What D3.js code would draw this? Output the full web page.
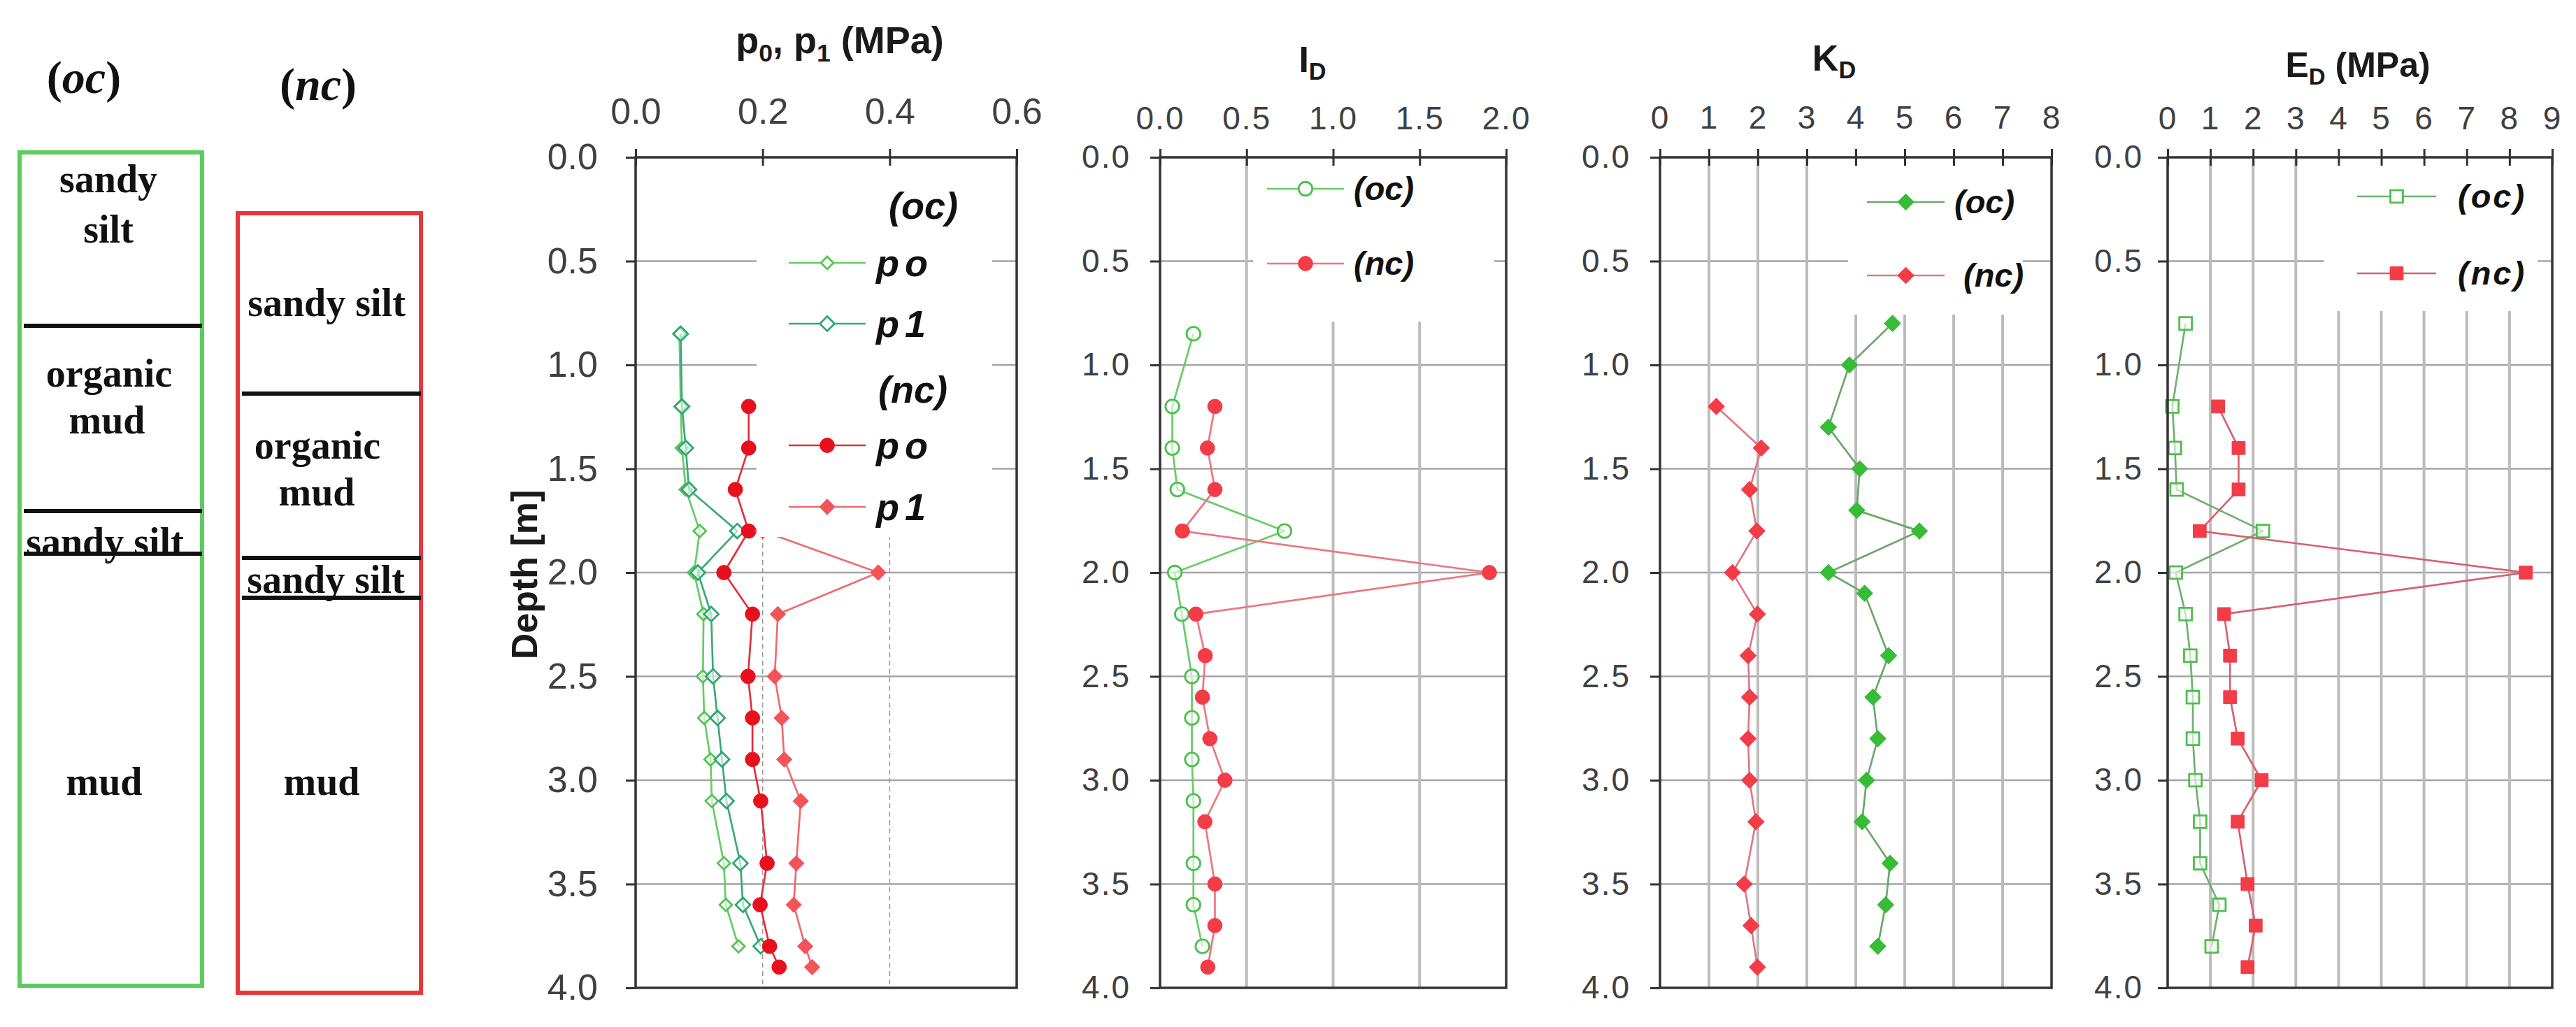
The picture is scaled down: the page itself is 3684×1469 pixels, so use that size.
<!DOCTYPE html>
<html>
<head>
<meta charset="utf-8">
<script src="https://cdn.jsdelivr.net/npm/d3@7"></script>
<style>
  html, body { margin: 0; padding: 0; background: #fff; }
  svg { display: block; }
</style>
</head>
<body>
<svg id="chart" width="3684" height="1469"></svg>
<script>
// ---------------- DATA ----------------
const depthTicks = [0, 0.5, 1, 1.5, 2, 2.5, 3, 3.5, 4];
const depthGrid = [0.5, 1, 1.5, 2, 2.5, 3, 3.5];

// p0, p1 panel
const pTicks = [0, 0.2, 0.4, 0.6];
const pDepthOc = [0.85, 1.2, 1.4, 1.6, 1.8, 2.0, 2.2, 2.5, 2.7, 2.9, 3.1, 3.4, 3.6, 3.8];
const p0Oc = [0.069, 0.071, 0.073, 0.079, 0.101, 0.092, 0.107, 0.106, 0.108, 0.118, 0.120, 0.139, 0.142, 0.162];
const p1Oc = [0.071, 0.073, 0.079, 0.084, 0.160, 0.098, 0.119, 0.122, 0.129, 0.136, 0.143, 0.165, 0.169, 0.197];
const pDepthNc = [1.2, 1.4, 1.6, 1.8, 2.0, 2.2, 2.5, 2.7, 2.9, 3.1, 3.4, 3.6, 3.8, 3.9];
const p0Nc = [0.178, 0.178, 0.157, 0.178, 0.139, 0.184, 0.177, 0.184, 0.184, 0.197, 0.207, 0.196, 0.211, 0.226];
const p1NcDepth = [1.8, 2.0, 2.2, 2.5, 2.7, 2.9, 3.1, 3.4, 3.6, 3.8, 3.9];
const p1Nc = [0.200, 0.382, 0.224, 0.219, 0.230, 0.234, 0.260, 0.253, 0.249, 0.267, 0.278];

// I_D panel
const idTicks = [0, 0.5, 1.0, 1.5, 2.0];
const idDepthOc = [0.85, 1.2, 1.4, 1.6, 1.8, 2.0, 2.2, 2.5, 2.7, 2.9, 3.1, 3.4, 3.6, 3.8];
const idOc = [0.193, 0.071, 0.071, 0.100, 0.719, 0.085, 0.126, 0.184, 0.184, 0.184, 0.193, 0.193, 0.193, 0.245];
const idDepthNc = [1.2, 1.4, 1.6, 1.8, 2.0, 2.2, 2.4, 2.6, 2.8, 3.0, 3.2, 3.5, 3.7, 3.9];
const idNc = [0.317, 0.274, 0.317, 0.129, 1.903, 0.207, 0.261, 0.245, 0.288, 0.375, 0.259, 0.317, 0.317, 0.276];

// K_D panel
const kdTicks = [0, 1, 2, 3, 4, 5, 6, 7, 8];
const kdDepthOc = [0.8, 1.0, 1.3, 1.5, 1.7, 1.8, 2.0, 2.1, 2.4, 2.6, 2.8, 3.0, 3.2, 3.4, 3.6, 3.8];
const kdOc = [4.75, 3.87, 3.44, 4.08, 4.02, 5.30, 3.44, 4.18, 4.67, 4.35, 4.45, 4.22, 4.13, 4.70, 4.61, 4.45];
const kdDepthNc = [1.2, 1.4, 1.6, 1.8, 2.0, 2.2, 2.4, 2.6, 2.8, 3.0, 3.2, 3.5, 3.7, 3.9];
const kdNc = [1.15, 2.07, 1.83, 1.98, 1.48, 1.99, 1.80, 1.83, 1.80, 1.83, 1.96, 1.72, 1.86, 1.99];

// E_D panel
const edTicks = [0, 1, 2, 3, 4, 5, 6, 7, 8, 9];
const edDepthOc = [0.8, 1.2, 1.4, 1.6, 1.8, 2.0, 2.2, 2.4, 2.6, 2.8, 3.0, 3.2, 3.4, 3.6, 3.8];
const edOc = [0.42, 0.11, 0.17, 0.21, 2.23, 0.19, 0.42, 0.53, 0.59, 0.59, 0.65, 0.76, 0.76, 1.21, 1.03];
const edDepthNc = [1.2, 1.4, 1.6, 1.8, 2.0, 2.2, 2.4, 2.6, 2.8, 3.0, 3.2, 3.5, 3.7, 3.9];
const edNc = [1.18, 1.66, 1.66, 0.75, 8.38, 1.32, 1.46, 1.46, 1.64, 2.20, 1.64, 1.87, 2.06, 1.87];

// Soil columns
const ocLayers = ["sandy silt", "organic mud", "sandy silt", "mud"];
const ncLayers = ["sandy silt", "organic mud", "sandy silt", "mud"];

// ---------------- DRAWING ----------------
const svg = d3.select('#chart');
svg.append('rect').attr('width', 3684).attr('height', 1469).attr('fill', '#fff');

const SANS = "'Liberation Sans', Arial, sans-serif";
const SERIF = "'Liberation Serif', 'Times New Roman', serif";
const GREEN_L = '#66cc66', TEAL = '#2fa872';
const RED = '#e8101c', RED_P1 = '#f2545a', RED2 = '#f23c48', RED2_L = '#ec7682';

const yTop = 225, yBot = 1413;

function markerPath(type, size) {
  if (type === 'circle') return d3.symbol(d3.symbolCircle, size)();
  return d3.symbol(d3.symbolSquare, size)(); // square, or diamond = rotated square
}

function drawSeries(g, x, y, depths, vals, st) {
  const pts = depths.map((d, i) => [x(vals[i]), y(d)]);
  g.append('path').attr('d', d3.line()(pts))
    .attr('fill', 'none').attr('stroke', st.line).attr('stroke-width', st.lw || 2.7)
    .attr('stroke-linejoin', 'round');
  g.selectAll(null).data(pts).join('path')
    .attr('d', markerPath(st.shape, st.size))
    .attr('transform', d => `translate(${d[0]},${d[1]})` + (st.shape === 'diamond' ? ' rotate(45)' : ''))
    .attr('fill', st.open ? '#fff' : st.color)
    .attr('fill-opacity', st.open ? 0.6 : 1)
    .attr('stroke', st.color).attr('stroke-width', st.open ? 2.8 : 1);
}

function legendItem(g, x1, x2, y, st, label, fs, tx, spacing) {
  g.append('line').attr('x1', x1).attr('x2', x2).attr('y1', y).attr('y2', y)
    .attr('stroke', st.line).attr('stroke-width', st.lw || 2.7);
  const mx = (x1 + x2) / 2;
  g.append('path').attr('d', markerPath(st.shape, st.size))
    .attr('transform', `translate(${mx},${y})` + (st.shape === 'diamond' ? ' rotate(45)' : ''))
    .attr('fill', st.open ? '#fff' : st.color)
    .attr('stroke', st.color).attr('stroke-width', st.open ? 2.8 : 1);
  if (label) {
    g.append('text').attr('x', tx).attr('y', y + fs * 0.35).text(label)
      .attr('font-family', SANS).attr('font-weight', 'bold').attr('font-style', 'italic')
      .attr('font-size', fs).attr('fill', '#111')
      .attr('letter-spacing', spacing || 0);
  }
}

function panel(cfg) {
  const x = d3.scaleLinear().domain([cfg.xTicks[0], cfg.xTicks[cfg.xTicks.length - 1]]).range([cfg.x0, cfg.x1]);
  const y = d3.scaleLinear().domain([0, 4]).range([yTop, yBot]);
  const g = svg.append('g');

  // horizontal grid
  g.selectAll(null).data(depthGrid).join('line')
    .attr('x1', cfg.x0).attr('x2', cfg.x1).attr('y1', d => y(d)).attr('y2', d => y(d))
    .attr('stroke', '#a4a4a4').attr('stroke-width', 2.6);
  // vertical grid
  g.selectAll(null).data(cfg.vGrid).join('line')
    .attr('x1', d => x(d)).attr('x2', d => x(d)).attr('y1', yTop).attr('y2', yBot)
    .attr('stroke', cfg.dashed ? '#9a9a9a' : '#bcbcbc')
    .attr('stroke-width', cfg.dashed ? 1.6 : 4)
    .attr('stroke-dasharray', cfg.dashed ? '7,5' : null);

  cfg.series(g, x, y);

  // legend box (white, covers grid & data)
  const lb = cfg.legendBox;
  g.append('rect').attr('x', lb[0]).attr('y', yTop + 2).attr('width', lb[1] - lb[0])
    .attr('height', lb[2] - yTop - 2).attr('fill', '#fff');
  cfg.legend(g);

  // frame
  g.append('rect').attr('x', cfg.x0).attr('y', yTop).attr('width', cfg.x1 - cfg.x0)
    .attr('height', yBot - yTop).attr('fill', 'none').attr('stroke', '#333').attr('stroke-width', 3.5);

  // top axis
  const ax = g.append('g').attr('transform', `translate(0,${yTop})`)
    .call(d3.axisTop(x).tickValues(cfg.xTicks).tickFormat(cfg.xFmt).tickSizeInner(12).tickSizeOuter(0).tickPadding(cfg.xPad));
  ax.select('.domain').remove();
  ax.selectAll('.tick line').attr('y1', 12).attr('stroke', '#333').attr('stroke-width', 3);
  ax.selectAll('.tick text').attr('font-family', SANS).attr('font-size', cfg.fs).attr('fill', '#404040')
    .attr('letter-spacing', cfg.ls || 0);

  // left axis
  const ay = g.append('g').attr('transform', `translate(${cfg.x0},0)`)
    .call(d3.axisLeft(y).tickValues(depthTicks).tickFormat(d3.format('.1f')).tickSizeInner(14).tickSizeOuter(0).tickPadding(cfg.yPad));
  ay.select('.domain').remove();
  ay.selectAll('.tick line').attr('stroke', '#333').attr('stroke-width', 3);
  ay.selectAll('.tick text').attr('font-family', SANS).attr('font-size', cfg.fs).attr('fill', '#404040')
    .attr('letter-spacing', cfg.ls || 0);

  // title
  const t = svg.append('text').attr('x', cfg.titleX).attr('y', cfg.titleY)
    .attr('text-anchor', 'middle').attr('font-family', SANS).attr('font-weight', 'bold')
    .attr('font-size', cfg.titleFs).attr('fill', '#1a1a1a');
  cfg.title.forEach(p => {
    const ts = t.append('tspan').text(p.t);
    if (p.sub) ts.attr('font-size', cfg.titleFs * 0.66).attr('dy', cfg.titleFs * 0.22);
    if (p.back) ts.attr('dy', -cfg.titleFs * 0.22);
  });
  return { x, y };
}

// ----- p0, p1 panel -----
const stPoOc = { shape: 'diamond', size: 160, color: '#55c455', line: '#66cc66', open: true };
const stP1Oc = { shape: 'diamond', size: 220, color: TEAL, line: '#3aaa78', open: true };
const stPoNc = { shape: 'circle', size: 340, color: RED, line: '#e0303a' };
const stP1Nc = { shape: 'diamond', size: 240, color: RED_P1, line: '#f06a70' };

panel({
  x0: 909, x1: 1454, xTicks: pTicks, xFmt: d3.format('.1f'), xPad: 36, yPad: 40, fs: 52,
  vGrid: [0.2, 0.4], dashed: true,
  legendBox: [1082, 1419, 768],
  series: (g, x, y) => {
    drawSeries(g, x, y, pDepthOc, p0Oc, stPoOc);
    drawSeries(g, x, y, pDepthOc, p1Oc, stP1Oc);
    drawSeries(g, x, y, pDepthNc, p0Nc, stPoNc);
    drawSeries(g, x, y, p1NcDepth, p1Nc, stP1Nc);
  },
  legend: g => {
    g.append('text').attr('x', 1271).attr('y', 313).text('(oc)')
      .attr('font-family', SANS).attr('font-weight', 'bold').attr('font-style', 'italic')
      .attr('font-size', 54).attr('fill', '#111');
    legendItem(g, 1128, 1238, 376, stPoOc, 'po', 54, 1253, 8);
    legendItem(g, 1128, 1238, 463, stP1Oc, 'p1', 54, 1253, 8);
    g.append('text').attr('x', 1256).attr('y', 576).text('(nc)')
      .attr('font-family', SANS).attr('font-weight', 'bold').attr('font-style', 'italic')
      .attr('font-size', 54).attr('fill', '#111');
    legendItem(g, 1128, 1238, 637, stPoNc, 'po', 54, 1253, 8);
    legendItem(g, 1128, 1238, 725, stP1Nc, 'p1', 54, 1253, 8);
  },
  titleX: 1201, titleY: 76, titleFs: 54,
  title: [{ t: 'p' }, { t: '0', sub: true }, { t: ', p', back: true }, { t: '1', sub: true }, { t: ' (MPa)', back: true }]
});

// Depth label
svg.append('text').attr('transform', 'translate(768,822) rotate(-90)')
  .attr('text-anchor', 'middle').attr('font-family', SANS).attr('font-weight', 'bold')
  .attr('font-size', 52).attr('fill', '#1a1a1a').text('Depth [m]');

// ----- I_D panel -----
const stOcCircle = { shape: 'circle', size: 300, color: '#4cc04c', line: GREEN_L, open: true };
const stNcCircle = { shape: 'circle', size: 340, color: RED2, line: RED2_L };
panel({
  x0: 1659, x1: 2154, xTicks: idTicks, xFmt: d3.format('.1f'), xPad: 28, yPad: 28, fs: 46, ls: 2,
  vGrid: [0.5, 1.0, 1.5],
  legendBox: [1792, 2137, 460],
  series: (g, x, y) => {
    drawSeries(g, x, y, idDepthOc, idOc, stOcCircle);
    drawSeries(g, x, y, idDepthNc, idNc, stNcCircle);
  },
  legend: g => {
    legendItem(g, 1812, 1922, 270, stOcCircle, '(oc)', 47, 1936);
    legendItem(g, 1812, 1922, 377, stNcCircle, '(nc)', 47, 1936);
  },
  titleX: 1877, titleY: 103, titleFs: 52,
  title: [{ t: 'I' }, { t: 'D', sub: true }]
});

// ----- K_D panel -----
const stOcDia = { shape: 'diamond', size: 270, color: '#36bc36', line: '#6aa86a' };
const stNcDia = { shape: 'diamond', size: 270, color: RED2, line: '#e07884' };
panel({
  x0: 2374, x1: 2934, xTicks: kdTicks, xFmt: d3.format('d'), xPad: 29, yPad: 28, fs: 46, ls: 2,
  vGrid: [1, 2, 3, 4, 5, 6, 7],
  legendBox: [2643, 2893, 450],
  series: (g, x, y) => {
    drawSeries(g, x, y, kdDepthOc, kdOc, stOcDia);
    drawSeries(g, x, y, kdDepthNc, kdNc, stNcDia);
  },
  legend: g => {
    legendItem(g, 2670, 2781, 289, stOcDia, '(oc)', 47, 2795);
    legendItem(g, 2670, 2781, 394, stNcDia, '(nc)', 47, 2808);
  },
  titleX: 2623, titleY: 101, titleFs: 52,
  title: [{ t: 'K' }, { t: 'D', sub: true }]
});

// ----- E_D panel -----
const stOcSq = { shape: 'square', size: 320, color: '#4cc04c', line: '#70b070', open: true };
const stNcSq = { shape: 'square', size: 350, color: RED2, line: '#d86070' };
panel({
  x0: 3100, x1: 3650, xTicks: edTicks, xFmt: d3.format('d'), xPad: 28, yPad: 21, fs: 46, ls: 2,
  vGrid: [1, 2, 3, 4, 5, 6, 7, 8],
  legendBox: [3324, 3629, 445],
  series: (g, x, y) => {
    drawSeries(g, x, y, edDepthOc, edOc, stOcSq);
    drawSeries(g, x, y, edDepthNc, edNc, stNcSq);
  },
  legend: g => {
    legendItem(g, 3371, 3484, 281, stOcSq, '(oc)', 47, 3515, 3);
    legendItem(g, 3371, 3484, 391, stNcSq, '(nc)', 47, 3515, 3);
  },
  titleX: 3372, titleY: 110, titleFs: 50,
  title: [{ t: 'E' }, { t: 'D', sub: true }, { t: ' (MPa)', back: true }]
});

// ----- Soil columns -----
function col(cfg) {
  const g = svg.append('g');
  g.append('rect').attr('x', cfg.x0).attr('y', cfg.y0).attr('width', cfg.x1 - cfg.x0)
    .attr('height', cfg.y1 - cfg.y0).attr('fill', 'none').attr('stroke', cfg.color).attr('stroke-width', 6);
  const ht = g.append('text').attr('x', cfg.hx).attr('y', cfg.hy).attr('text-anchor', 'middle')
    .attr('font-family', SERIF).attr('font-weight', 'bold').attr('font-size', 66).attr('fill', '#111');
  ht.append('tspan').text('(');
  ht.append('tspan').attr('font-style', 'italic').text(cfg.head);
  ht.append('tspan').text(')');
  cfg.texts.forEach(tx => {
    g.append('text').attr('x', tx.x).attr('y', tx.y).attr('text-anchor', 'middle')
      .attr('font-family', SERIF).attr('font-weight', 'bold').attr('font-size', 56).attr('fill', '#111')
      .text(tx.t);
  });
  cfg.lines.forEach(ly => {
    g.append('line').attr('x1', cfg.x0 + 6).attr('x2', cfg.x1).attr('y1', ly).attr('y2', ly)
      .attr('stroke', '#111').attr('stroke-width', 6);
  });
}
col({
  x0: 28, x1: 289, y0: 218, y1: 1410, color: '#5ccc5c', head: 'oc', hx: 120, hy: 133,
  lines: [466, 731, 792],
  texts: [
    { t: ocLayers[0].split(' ')[0], x: 155, y: 275 },
    { t: ocLayers[0].split(' ')[1], x: 155, y: 347 },
    { t: ocLayers[1].split(' ')[0], x: 156, y: 553 },
    { t: ocLayers[1].split(' ')[1], x: 153, y: 620 },
    { t: ocLayers[2], x: 150, y: 794 },
    { t: ocLayers[3], x: 149, y: 1137 }
  ]
});
col({
  x0: 340, x1: 602, y0: 305, y1: 1420, color: '#e8373a', head: 'nc', hx: 455, hy: 143,
  lines: [563, 798, 855],
  texts: [
    { t: ncLayers[0], x: 467, y: 452 },
    { t: ncLayers[1].split(' ')[0], x: 454, y: 656 },
    { t: ncLayers[1].split(' ')[1], x: 453, y: 723 },
    { t: ncLayers[2], x: 466, y: 848 },
    { t: ncLayers[3], x: 460, y: 1137 }
  ]
});
</script>
</body>
</html>
